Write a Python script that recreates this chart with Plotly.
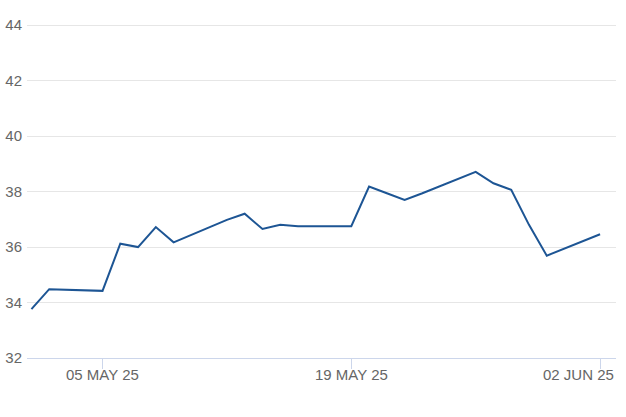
import plotly.graph_objects as go

# trading days and closing values
dates = [
    '2025-05-01', '2025-05-02', '2025-05-05', '2025-05-06', '2025-05-07',
    '2025-05-08', '2025-05-09', '2025-05-12', '2025-05-13', '2025-05-14',
    '2025-05-15', '2025-05-16', '2025-05-19', '2025-05-20', '2025-05-21',
    '2025-05-22', '2025-05-23', '2025-05-26', '2025-05-27', '2025-05-28',
    '2025-05-29', '2025-05-30', '2025-06-02',
]
values = [
    33.76, 34.48, 34.42, 36.12, 36.00,
    36.72, 36.17, 36.98, 37.20, 36.65,
    36.80, 36.75, 36.75, 38.18, 37.94,
    37.70, 37.94, 38.71, 38.30, 38.06,
    36.80, 35.69, 36.46,
]

tick_dates = ['2025-05-05', '2025-05-19', '2025-06-02']
tick_text = ['05 MAY 25', '19 MAY 25', '02 JUN 25']
y_ticks = [32, 34, 36, 38, 40, 42, 44]

fig = go.Figure()

fig.add_trace(go.Scatter(
    x=dates,
    y=values,
    mode='lines',
    line=dict(color='#1d5594', width=2),
    showlegend=False,
    hoverinfo='x+y'
))

# x labels as annotations so the last one can be pulled inside the chart
for i, (d, t) in enumerate(zip(tick_dates, tick_text)):
    fig.add_annotation(
        x=d, y=0, xref='x', yref='paper',
        text=t, showarrow=False,
        xanchor='center', yanchor='middle',
        xshift=-22 if i == len(tick_dates) - 1 else 0,
        yshift=-16,
        font=dict(size=15, color='#666666')
    )

fig.update_layout(
    width=626,
    height=417,
    margin=dict(l=27, r=10, t=24, b=59),
    plot_bgcolor='white',
    paper_bgcolor='white',
    font=dict(family='Arial, Liberation Sans, sans-serif', color='#666666', size=15),
    xaxis=dict(
        range=['2025-04-30 18:00', '2025-06-02 21:30'],
        tickvals=tick_dates,
        showticklabels=False,
        showgrid=False,
        showline=True,
        linecolor='#ccd6eb',
        linewidth=1,
        ticks='outside',
        ticklen=10,
        tickcolor='#ccd6eb',
        zeroline=False,
        automargin=False
    ),
    yaxis=dict(
        range=[32, 44.04],
        tickvals=y_ticks,
        showgrid=True,
        gridcolor='#e6e6e6',
        gridwidth=1,
        zeroline=False,
        showline=False,
        ticks='',
        ticklabelstandoff=4,
        tickfont=dict(size=15, color='#666666'),
        automargin=False
    )
)

# drop the default page margin so the chart sits at the window corner
fig.write_html(
    "out.html",
    config={'displayModeBar': False},
    post_script="document.body.style.margin='0';"
)
